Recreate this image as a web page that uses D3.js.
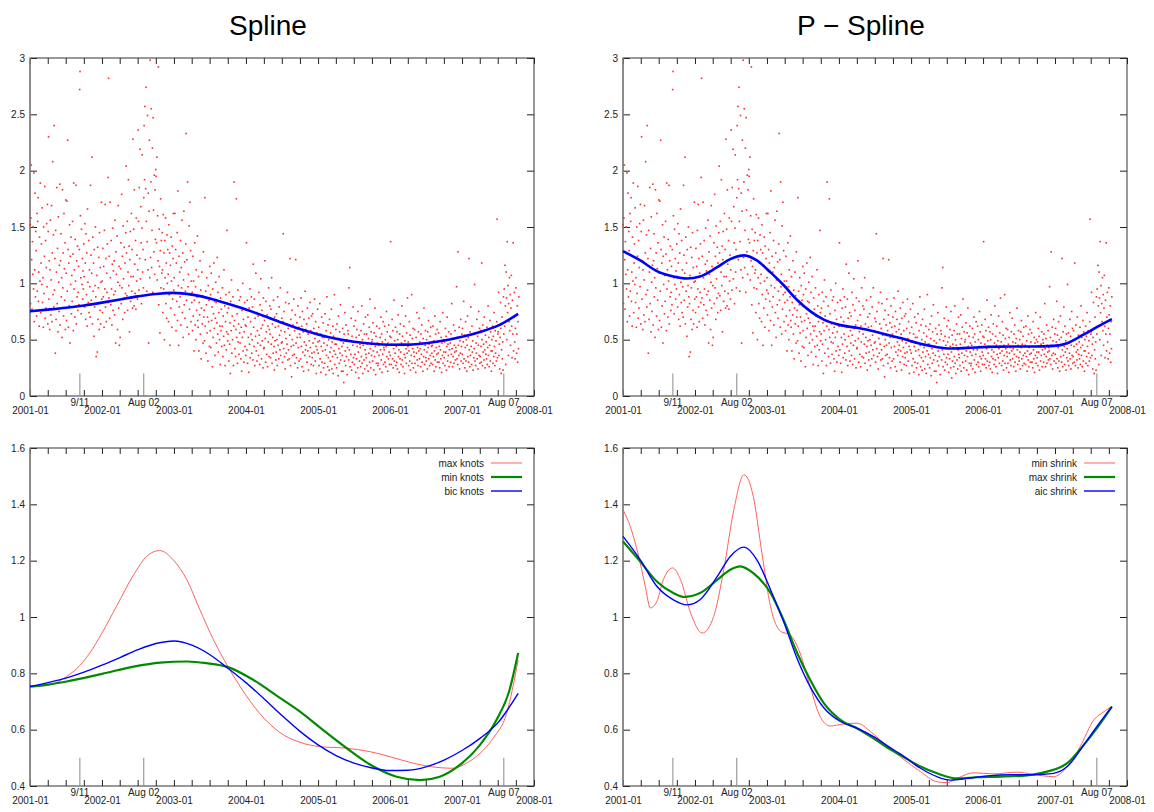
<!DOCTYPE html>
<html>
<head>
<meta charset="utf-8">
<script src="https://cdn.jsdelivr.net/npm/d3@7"></script>
<style>
  body { margin: 0; background: #fff; }
  text { font-family: "Liberation Sans", Arial, sans-serif; }
</style>
</head>
<body>
<div id="main_plot"></div>
<script>

// daily volatility values, grouped by month
var vol2001 = [
  [1.52,0.82,1.58,2.05,1.21,0.77,1.37,1.08,1.50,0.95,1.98,0.66,1.12,1.80,0.88,1.46],
  [1.29,0.71,1.62,0.93,1.55,1.76,0.84,1.10,0.62,1.41,1.02,1.89,0.74,1.18,1.35,0.99],
  [1.67,0.83,1.05,0.61,1.50,0.91,1.24,1.86,0.69,1.38,0.78,1.14,1.53,0.97,1.70,0.64],
  [1.46,2.30,0.86,1.20,0.59,1.12,1.56,0.72,1.03,1.69,0.66,1.27,2.08,0.90,1.43,0.79],
  [2.40,0.94,1.22,0.38,1.47,0.68,1.10,1.85,0.82,1.31,0.57,1.59,1.01,0.75,1.16,1.88],
  [0.63,1.20,1.44,0.88,1.05,0.52,1.83,0.96,1.27,0.71,1.62,1.13,0.85,1.36,0.59,1.74],
  [1.09,0.67,1.73,0.93,2.27,1.30,0.61,1.18,0.80,1.52,0.47,1.24,0.99,1.41,0.73,1.07],
  [0.84,1.55,1.26,0.58,1.89,0.95,1.12,0.70,1.39,1.02,1.87,0.64,1.20,0.88,1.33,0.76],
  [0.92,1.15,0.81,1.30,2.72,2.88,1.60,1.05,0.73,1.48,0.99,1.22,0.86,1.11,0.95,1.35],
  [1.06,0.79,1.53,1.18,0.68,1.44,0.90,1.27,0.62,1.66,1.01,0.83,1.38,0.74,1.12,0.97],
  [0.70,1.87,1.25,0.85,1.09,2.12,0.64,1.41,0.93,1.18,0.53,1.30,0.79,0.98,1.50,0.88],
  [0.35,0.82,1.07,0.39,1.32,0.68,0.96,1.23,0.59,1.45,0.76,1.14,0.64,1.01,1.72,0.86]
];
var vol2002 = [
  [1.02,0.74,1.31,0.88,1.15,0.61,1.47,0.95,1.70,0.79,1.22,0.66,1.09,0.92,1.35,0.83],
  [1.94,2.82,0.87,1.24,0.69,1.72,1.05,0.81,1.38,0.95,0.63,1.17,1.49,0.76,1.11,0.90],
  [1.20,0.72,1.56,0.93,0.47,1.28,1.08,0.85,1.42,0.59,1.01,1.69,0.78,1.15,0.45,0.98],
  [0.52,1.13,1.36,0.82,1.79,0.96,1.24,0.68,1.51,1.04,0.87,1.32,0.74,1.18,0.91,1.45],
  [2.04,1.27,0.89,1.55,0.76,1.10,1.92,0.98,1.33,0.57,1.21,1.46,0.84,1.06,1.62,0.93],
  [1.30,0.78,2.28,1.06,1.48,0.80,1.83,1.17,0.91,1.38,0.77,1.58,1.02,1.25,0.86,1.12],
  [2.36,1.55,0.94,1.85,1.22,2.19,1.04,1.68,1.36,0.82,1.49,2.14,1.10,1.30,0.96,1.76],
  [2.40,1.92,2.57,1.21,1.84,2.74,1.55,0.93,1.37,2.49,1.12,1.80,0.47,1.64,2.27,1.05],
  [2.98,1.23,1.90,2.55,1.14,1.47,2.20,0.92,2.47,1.65,1.28,1.96,1.08,1.83,1.39,2.01],
  [1.95,1.36,2.12,1.03,1.60,1.20,2.92,0.81,1.48,1.15,0.56,1.29,1.75,0.96,1.38,1.09],
  [1.45,1.12,0.74,1.61,0.95,1.27,0.50,1.38,1.05,1.58,0.82,1.18,0.69,1.43,1.00,1.30],
  [1.08,0.66,1.52,0.90,1.27,0.45,1.16,0.78,1.41,1.02,0.61,1.33,0.86,1.22,1.62,0.94]
];
var vol2003 = [
  [1.05,0.72,1.62,0.91,1.30,0.58,1.18,0.84,1.45,0.67,1.82,0.98,0.45,1.24,0.79,1.10],
  [0.88,1.38,0.63,1.14,0.96,1.56,0.74,1.27,0.52,1.03,1.64,0.81,1.19,0.69,0.93,1.35],
  [2.33,0.85,1.21,0.61,1.90,0.97,1.08,0.55,1.51,0.77,1.72,0.90,1.29,0.66,1.02,0.83],
  [0.92,0.58,1.24,0.71,1.02,0.40,0.85,1.36,0.63,0.97,0.50,1.12,0.76,0.88,1.42,0.67],
  [0.61,1.06,0.40,0.83,0.72,1.20,0.55,0.94,0.33,0.78,1.10,0.64,0.89,0.47,1.28,0.70],
  [0.76,0.49,1.76,0.62,0.93,0.38,0.81,1.05,0.56,0.70,0.31,0.98,0.66,0.85,0.44,1.15],
  [0.58,0.90,0.43,1.09,0.67,0.79,0.26,0.95,0.52,0.73,1.18,0.60,0.84,0.36,0.69,1.01],
  [0.83,0.47,0.65,1.23,0.55,0.92,0.39,0.74,1.06,0.50,0.62,0.28,0.87,0.58,0.77,0.44],
  [0.62,0.96,0.35,0.71,0.53,1.12,0.45,0.80,0.27,0.66,0.90,0.41,0.57,1.47,0.74,0.49],
  [0.55,0.78,0.31,0.92,0.46,0.65,0.20,0.84,0.58,1.03,0.38,0.71,0.50,0.88,0.27,0.62],
  [1.90,0.67,0.42,0.80,0.35,0.59,1.75,0.52,0.73,0.29,0.94,0.48,0.64,0.37,0.85,0.56],
  [0.47,0.88,0.33,0.61,0.22,0.76,0.52,1.00,0.40,0.68,0.30,0.57,0.83,0.44,0.63,0.36]
];
var vol2004 = [
  [0.62,1.36,0.41,0.85,0.29,0.70,0.52,0.21,0.78,0.46,0.95,0.34,0.66,0.55,0.88,0.38],
  [0.50,0.79,0.32,1.17,0.61,0.44,0.86,0.27,0.69,0.53,1.09,0.40,0.74,0.31,0.58,0.47],
  [0.71,0.36,0.92,0.54,0.28,0.81,0.45,1.04,0.60,0.33,0.76,0.49,0.63,0.25,0.87,0.42],
  [0.43,0.67,1.20,0.51,0.30,0.84,0.57,0.37,0.72,0.26,0.62,0.48,0.96,0.35,0.59,0.80],
  [0.55,0.34,0.77,0.46,1.05,0.29,0.64,0.52,0.38,0.85,0.44,0.23,0.70,0.49,0.61,0.32],
  [0.39,0.73,0.50,0.27,0.88,0.45,0.62,0.33,0.79,0.54,0.41,0.96,0.36,0.58,0.47,0.69],
  [0.48,0.30,0.66,1.44,0.42,0.75,0.35,0.57,0.24,0.83,0.51,0.38,0.64,0.46,0.92,0.32],
  [0.60,0.41,0.82,0.33,0.54,1.22,0.27,0.68,0.44,0.17,0.76,0.50,0.36,0.63,0.45,0.86],
  [0.37,0.58,0.29,0.72,1.21,0.47,0.34,0.65,0.52,0.25,0.80,0.43,0.61,0.31,0.55,0.70],
  [0.52,0.33,0.87,0.44,0.62,0.26,0.75,0.39,0.57,0.22,0.68,0.48,0.36,0.93,0.41,0.59],
  [0.45,0.64,0.30,0.78,0.40,0.55,0.23,0.69,0.49,0.35,0.83,0.43,0.58,0.28,0.71,0.38],
  [0.34,0.73,0.47,0.27,0.60,0.39,0.86,0.51,0.31,0.66,0.44,0.20,0.56,0.41,0.77,0.48]
];
var vol2005 = [
  [0.38,0.61,0.27,0.49,0.82,0.33,0.55,0.21,0.44,0.70,0.30,0.52,0.40,0.65,0.25,0.47],
  [0.52,0.29,0.73,0.41,0.19,0.58,0.36,0.88,0.45,0.26,0.63,0.34,0.50,0.23,0.68,0.39],
  [0.31,0.56,0.43,0.77,0.24,0.48,0.35,0.62,0.20,0.53,0.40,0.90,0.28,0.46,0.37,0.59],
  [0.46,0.25,0.64,0.34,0.51,0.18,0.71,0.42,0.29,0.57,0.38,0.81,0.32,0.49,0.22,0.44],
  [0.36,0.60,0.22,0.47,0.12,0.55,0.31,0.74,0.40,0.27,0.63,0.35,0.50,0.19,0.43,0.58],
  [0.55,0.32,0.96,0.41,1.14,0.26,0.49,0.37,0.69,0.23,0.53,0.30,0.45,0.79,0.34,0.62],
  [0.28,0.48,0.37,0.67,0.21,0.52,0.33,0.59,0.44,0.25,0.75,0.39,0.16,0.54,0.31,0.46],
  [0.43,0.26,0.58,0.35,0.80,0.29,0.50,0.20,0.45,0.64,0.32,0.55,0.24,0.41,0.70,0.37],
  [0.34,0.55,0.27,0.46,0.72,0.22,0.51,0.38,0.61,0.30,0.86,0.42,0.25,0.57,0.36,0.48],
  [0.50,0.31,0.65,0.40,0.23,0.56,0.35,0.78,0.44,0.19,0.53,0.29,0.62,0.39,0.47,0.27],
  [0.29,0.45,0.36,0.60,0.24,0.52,0.41,0.70,0.32,0.55,0.21,0.48,0.37,0.66,0.28,0.43],
  [0.41,0.62,0.30,0.50,0.26,0.44,0.75,0.35,0.57,0.22,0.47,0.33,0.63,0.39,0.28,0.53]
];
var vol2006 = [
  [0.36,1.37,0.52,0.28,0.46,0.68,0.33,0.58,0.25,0.42,0.85,0.31,0.49,0.38,0.61,0.27],
  [0.44,0.30,0.57,0.24,0.50,0.72,0.35,0.41,0.21,0.55,0.33,0.64,0.39,0.28,0.47,0.80],
  [0.32,0.53,0.26,0.45,0.62,0.37,0.20,0.49,0.34,0.71,0.42,0.29,0.56,0.38,0.87,0.44],
  [0.48,0.27,0.40,0.66,0.31,0.54,0.23,0.45,0.36,0.90,0.29,0.51,0.42,0.60,0.25,0.39],
  [0.35,0.59,0.29,0.46,0.21,0.52,0.38,0.74,0.32,0.43,0.27,0.57,0.40,0.69,0.33,0.48],
  [0.42,0.26,0.55,0.37,0.63,0.30,0.47,0.22,0.51,0.35,0.78,0.41,0.28,0.45,0.58,0.34],
  [0.31,0.50,0.39,0.24,0.57,0.43,0.67,0.33,0.46,0.27,0.53,0.36,0.61,0.29,0.44,0.38],
  [0.45,0.28,0.62,0.35,0.49,0.22,0.40,0.71,0.32,0.55,0.26,0.43,0.37,0.59,0.30,0.48],
  [0.38,0.56,0.30,0.44,0.25,0.66,0.41,0.33,0.52,0.21,0.47,0.36,0.74,0.29,0.50,0.39],
  [0.34,0.48,0.27,0.60,0.39,0.53,0.23,0.44,0.70,0.31,0.46,0.36,0.57,0.26,0.41,0.50],
  [0.47,0.30,0.55,0.37,0.82,0.42,0.26,0.51,0.35,0.63,0.29,0.45,0.39,0.58,0.32,0.43],
  [0.40,0.97,0.33,0.52,0.28,1.28,0.45,0.36,0.61,0.24,0.49,0.38,0.68,0.31,0.44,0.55]
];
var vol2007 = [
  [0.37,0.60,0.29,0.48,0.84,0.33,0.54,0.25,0.43,0.66,0.31,0.50,0.22,0.45,0.71,0.35],
  [0.52,0.30,1.22,0.41,0.26,0.57,0.36,0.79,0.44,0.28,0.62,0.39,0.49,0.23,0.55,0.34],
  [0.42,0.99,0.31,0.56,0.27,0.47,0.38,0.68,0.33,0.53,0.24,0.45,0.75,0.36,0.60,0.29],
  [0.35,0.58,0.44,0.30,1.18,0.50,0.27,0.63,0.39,0.46,0.32,0.70,0.41,0.25,0.54,0.37],
  [0.48,0.33,0.61,0.28,0.43,0.80,0.36,0.52,0.26,0.45,0.67,0.31,0.57,0.40,0.22,0.50],
  [0.40,0.62,0.29,0.53,0.35,0.74,0.44,0.27,0.58,0.38,0.49,0.31,0.66,1.57,0.34,0.55],
  [0.57,0.92,0.36,0.46,0.24,0.52,0.83,0.60,0.20,0.41,0.70,0.33,0.48,0.23,0.88,0.55],
  [0.95,0.62,1.16,0.80,0.28,1.10,0.87,0.50,1.37,0.74,0.98,0.36,0.82,0.66,1.05,0.58],
  [0.90,0.45,0.78,1.07,0.62,0.34,0.85,0.55,1.36,0.40,0.70,0.92,0.48,0.33,0.60,0.96],
  [0.72,0.38,0.55,0.80,0.30,0.66,0.42,0.88]
];
var volYears = [2001, 2002, 2003, 2004, 2005, 2006, 2007];
var volByYear = [vol2001, vol2002, vol2003, vol2004, vol2005, vol2006, vol2007];

// fitted curves, [decimal year, value]
var maxKnots = [[2001.00,0.753],[2001.28,0.759],[2001.51,0.789],[2001.69,0.827],[2001.83,0.872],[2002.00,0.943],[2002.20,1.037],[2002.44,1.150],[2002.62,1.215],[2002.80,1.236],[2002.99,1.203],[2003.18,1.132],[2003.36,1.026],[2003.55,0.919],[2003.75,0.824],[2003.92,0.753],[2004.19,0.658],[2004.47,0.590],[2004.75,0.555],[2005.02,0.540],[2005.40,0.534],[2005.72,0.522],[2006.00,0.504],[2006.32,0.481],[2006.56,0.469],[2006.88,0.463],[2007.06,0.481],[2007.25,0.516],[2007.43,0.569],[2007.62,0.658],[2007.78,0.848]];
var minKnots = [[2001.00,0.753],[2001.25,0.760],[2001.51,0.771],[2002.00,0.798],[2002.44,0.824],[2002.81,0.838],[2003.18,0.842],[2003.45,0.836],[2003.75,0.822],[2004.10,0.777],[2004.43,0.720],[2004.75,0.664],[2005.02,0.609],[2005.40,0.534],[2005.77,0.469],[2006.09,0.433],[2006.42,0.421],[2006.69,0.433],[2006.97,0.475],[2007.25,0.546],[2007.48,0.635],[2007.66,0.741],[2007.78,0.872]];
var bicKnots = [[2001.00,0.753],[2001.25,0.767],[2001.50,0.783],[2001.75,0.804],[2002.00,0.829],[2002.25,0.856],[2002.50,0.884],[2002.75,0.906],[2003.00,0.915],[2003.25,0.900],[2003.50,0.866],[2003.75,0.818],[2004.00,0.767],[2004.25,0.710],[2004.50,0.650],[2004.75,0.594],[2005.00,0.546],[2005.25,0.508],[2005.50,0.481],[2005.75,0.464],[2006.00,0.455],[2006.25,0.456],[2006.50,0.468],[2006.75,0.492],[2007.00,0.526],[2007.25,0.569],[2007.50,0.625],[2007.78,0.729]];

var minShrink = [[2001.00,1.381],[2001.10,1.322],[2001.24,1.191],[2001.31,1.109],[2001.38,1.032],[2001.47,1.055],[2001.56,1.132],[2001.69,1.174],[2001.80,1.132],[2001.94,1.014],[2002.10,0.943],[2002.26,1.002],[2002.40,1.168],[2002.54,1.381],[2002.68,1.505],[2002.81,1.428],[2002.93,1.227],[2003.05,1.037],[2003.19,0.949],[2003.32,0.937],[2003.46,0.872],[2003.60,0.753],[2003.74,0.646],[2003.88,0.613],[2004.06,0.620],[2004.25,0.623],[2004.44,0.593],[2004.57,0.564],[2004.85,0.504],[2005.13,0.451],[2005.36,0.415],[2005.50,0.412],[2005.64,0.427],[2005.87,0.447],[2006.15,0.443],[2006.47,0.449],[2006.70,0.441],[2006.98,0.433],[2007.17,0.469],[2007.35,0.540],[2007.54,0.635],[2007.68,0.664],[2007.79,0.682]];
var maxShrink = [[2001.00,1.268],[2001.24,1.197],[2001.47,1.126],[2001.70,1.085],[2001.84,1.071],[2002.07,1.085],[2002.31,1.132],[2002.49,1.168],[2002.63,1.180],[2002.81,1.156],[2003.05,1.085],[2003.23,0.990],[2003.42,0.872],[2003.60,0.777],[2003.79,0.694],[2004.02,0.635],[2004.25,0.605],[2004.48,0.569],[2004.71,0.530],[2004.85,0.510],[2005.13,0.469],[2005.36,0.445],[2005.64,0.427],[2005.92,0.431],[2006.24,0.433],[2006.61,0.438],[2006.89,0.451],[2007.17,0.481],[2007.40,0.546],[2007.58,0.605],[2007.79,0.682]];
var aicShrink = [[2001.00,1.286],[2001.24,1.203],[2001.47,1.109],[2001.70,1.061],[2001.89,1.043],[2002.07,1.061],[2002.31,1.144],[2002.49,1.215],[2002.68,1.248],[2002.86,1.203],[2003.05,1.097],[2003.23,0.985],[2003.42,0.852],[2003.60,0.753],[2003.79,0.678],[2004.02,0.629],[2004.25,0.605],[2004.48,0.575],[2004.71,0.536],[2004.85,0.514],[2005.13,0.463],[2005.36,0.433],[2005.55,0.421],[2005.78,0.427],[2006.06,0.436],[2006.38,0.440],[2006.70,0.440],[2006.98,0.445],[2007.17,0.469],[2007.40,0.546],[2007.58,0.611],[2007.79,0.682]];

// event markers on the time axis
var eventLabels = ["9/11", "Aug 02", "Aug 07"];
var eventDates = ["2001-09-11", "2002-08-01", "2007-08-01"];

// axis ticks
var topYTicks = [0, 0.5, 1, 1.5, 2, 2.5, 3];
var bottomYTicks = [0.4, 0.6, 0.8, 1, 1.2, 1.4, 1.6];
var titles = ["Spline", "P \u2212 Spline"];
var knotNames = ["max knots", "min knots", "bic knots"];
var shrinkNames = ["min shrink", "max shrink", "aic shrink"];

// panel geometry
var width = 504, height = 338;
var lefts = [30, 623], tops = [58, 448];
var fontFam = "Liberation Sans, Arial, sans-serif";

var svg = d3.select("div#main_plot")
  .append("svg")
  .attr("width", 1154)
  .attr("height", 812);

// decimal year -> Date
function toDate(t) {
  var yr = Math.floor(t);
  var a = Date.UTC(yr, 0, 1), b = Date.UTC(yr + 1, 0, 1);
  return new Date(a + (t - yr) * (b - a));
}

// scatter points: months spread over trading days
var scatter = [];
volByYear.forEach(function(months, k) {
  months.forEach(function(vals, m) {
    vals.forEach(function(v, i) {
      scatter.push([volYears[k] + (m + (i + 0.5) / 16) / 12, v]);
    });
  });
});

var quarters = d3.utcMonth.every(3).range(new Date(Date.UTC(2001, 0, 1)), new Date(Date.UTC(2008, 0, 2)));
var yearFmt = d3.utcFormat("%Y-%m");

function makePanel(left, top, yDomain, yTicks, markTop) {
  var g = svg.append("g")
    .attr("transform", "translate(" + left + "," + top + ")");

  var x = d3.scaleUtc()
    .domain([new Date(Date.UTC(2001, 0, 1)), new Date(Date.UTC(2008, 0, 1))])
    .range([0, width]);
  var y = d3.scaleLinear().domain(yDomain).range([height, 0]);

  // bottom axis with year labels
  var xb = g.append("g")
    .attr("transform", "translate(0," + height + ")")
    .call(d3.axisBottom(x)
      .tickValues(quarters)
      .tickSizeInner(-6).tickSizeOuter(0)
      .tickPadding(11)
      .tickFormat(function(d) { return d.getUTCMonth() === 0 ? yearFmt(d) : ""; }));
  // top axis
  var xt = g.append("g")
    .call(d3.axisTop(x).tickValues(quarters).tickSizeInner(-6).tickSizeOuter(0).tickFormat(""));
  // left axis
  var yl = g.append("g")
    .call(d3.axisLeft(y).tickValues(yTicks).tickSizeInner(-7).tickSizeOuter(0).tickPadding(5)
      .tickFormat(function(d) { return String(d); }));
  // right axis
  var yr = g.append("g")
    .attr("transform", "translate(" + width + ",0)")
    .call(d3.axisRight(y).tickValues(yTicks).tickSizeInner(-7).tickSizeOuter(0).tickFormat(""));

  [xb, xt, yl, yr].forEach(function(a) {
    a.attr("font-family", fontFam).attr("font-size", 10).style("color", "#222");
    a.select(".domain").remove();
  });

  // frame
  g.append("rect")
    .attr("width", width).attr("height", height)
    .attr("fill", "none").attr("stroke", "#333").attr("stroke-width", 1);
  g.append("line")
    .attr("x1", 0).attr("x2", 0).attr("y1", 0).attr("y2", height)
    .attr("stroke", "#888").attr("stroke-width", 1.5);

  // event markers
  eventDates.forEach(function(ds, i) {
    var ex = x(d3.utcParse("%Y-%m-%d")(ds));
    g.append("line")
      .attr("x1", ex).attr("x2", ex)
      .attr("y1", y(yDomain[0])).attr("y2", y(markTop))
      .attr("stroke", "#888").attr("stroke-width", 1);
    g.append("text")
      .attr("x", ex).attr("y", height + 9.5)
      .attr("text-anchor", "middle")
      .attr("font-size", 10).attr("fill", "#222")
      .text(eventLabels[i]);
  });

  return { g: g, x: x, y: y };
}

function drawCurve(p, data, color, w) {
  p.g.append("path")
    .datum(data)
    .attr("fill", "none")
    .attr("stroke", color)
    .attr("stroke-width", w)
    .attr("stroke-linejoin", "round")
    .attr("d", d3.line()
      .curve(d3.curveMonotoneX)
      .x(function(d) { return p.x(toDate(d[0])); })
      .y(function(d) { return p.y(d[1]); }));
}

function drawLegend(p, names, colors, widths) {
  names.forEach(function(n, i) {
    var ly = 15 + 14 * i;
    p.g.append("text")
      .attr("x", width - 50).attr("y", ly)
      .attr("dy", "0.35em")
      .attr("text-anchor", "end")
      .attr("font-size", 10).attr("fill", "#222")
      .text(n);
    p.g.append("line")
      .attr("x1", width - 43).attr("x2", width - 12)
      .attr("y1", ly).attr("y2", ly)
      .attr("stroke", colors[i]).attr("stroke-width", widths[i]);
  });
}

// titles
titles.forEach(function(t, i) {
  svg.append("text")
    .attr("x", lefts[i] + width / 2 - 14)
    .attr("y", 35)
    .attr("text-anchor", "middle")
    .attr("font-size", 28)
    .attr("fill", "#000")
    .text(t);
});

var fits = [bicKnots, aicShrink];
var lineColors = ["#ff6060", "#008a00", "#0000ff"];
var lineWidths = [1, 2.2, 1.4];

// top panels: scatter + fitted curve
lefts.forEach(function(lx, i) {
  var p = makePanel(lx, tops[0], [0, 3], topYTicks, 0.2);
  p.g.append("g")
    .selectAll("rect")
    .data(scatter)
    .enter().append("rect")
      .attr("x", function(d) { return p.x(toDate(d[0])) - 0.8; })
      .attr("y", function(d) { return p.y(d[1]) - 0.8; })
      .attr("width", 1.6).attr("height", 1.6)
      .attr("fill", "#ff2a2a");
  drawCurve(p, fits[i], "#0000ff", 2.6);
});

// bottom panels: curve comparison
var bl = makePanel(lefts[0], tops[1], [0.4, 1.6], bottomYTicks, 0.5);
[maxKnots, minKnots, bicKnots].forEach(function(c, i) {
  drawCurve(bl, c, lineColors[i], lineWidths[i]);
});
drawLegend(bl, knotNames, lineColors, lineWidths);

var br = makePanel(lefts[1], tops[1], [0.4, 1.6], bottomYTicks, 0.5);
[minShrink, maxShrink, aicShrink].forEach(function(c, i) {
  drawCurve(br, c, lineColors[i], lineWidths[i]);
});
drawLegend(br, shrinkNames, lineColors, lineWidths);

</script>
</body>
</html>
